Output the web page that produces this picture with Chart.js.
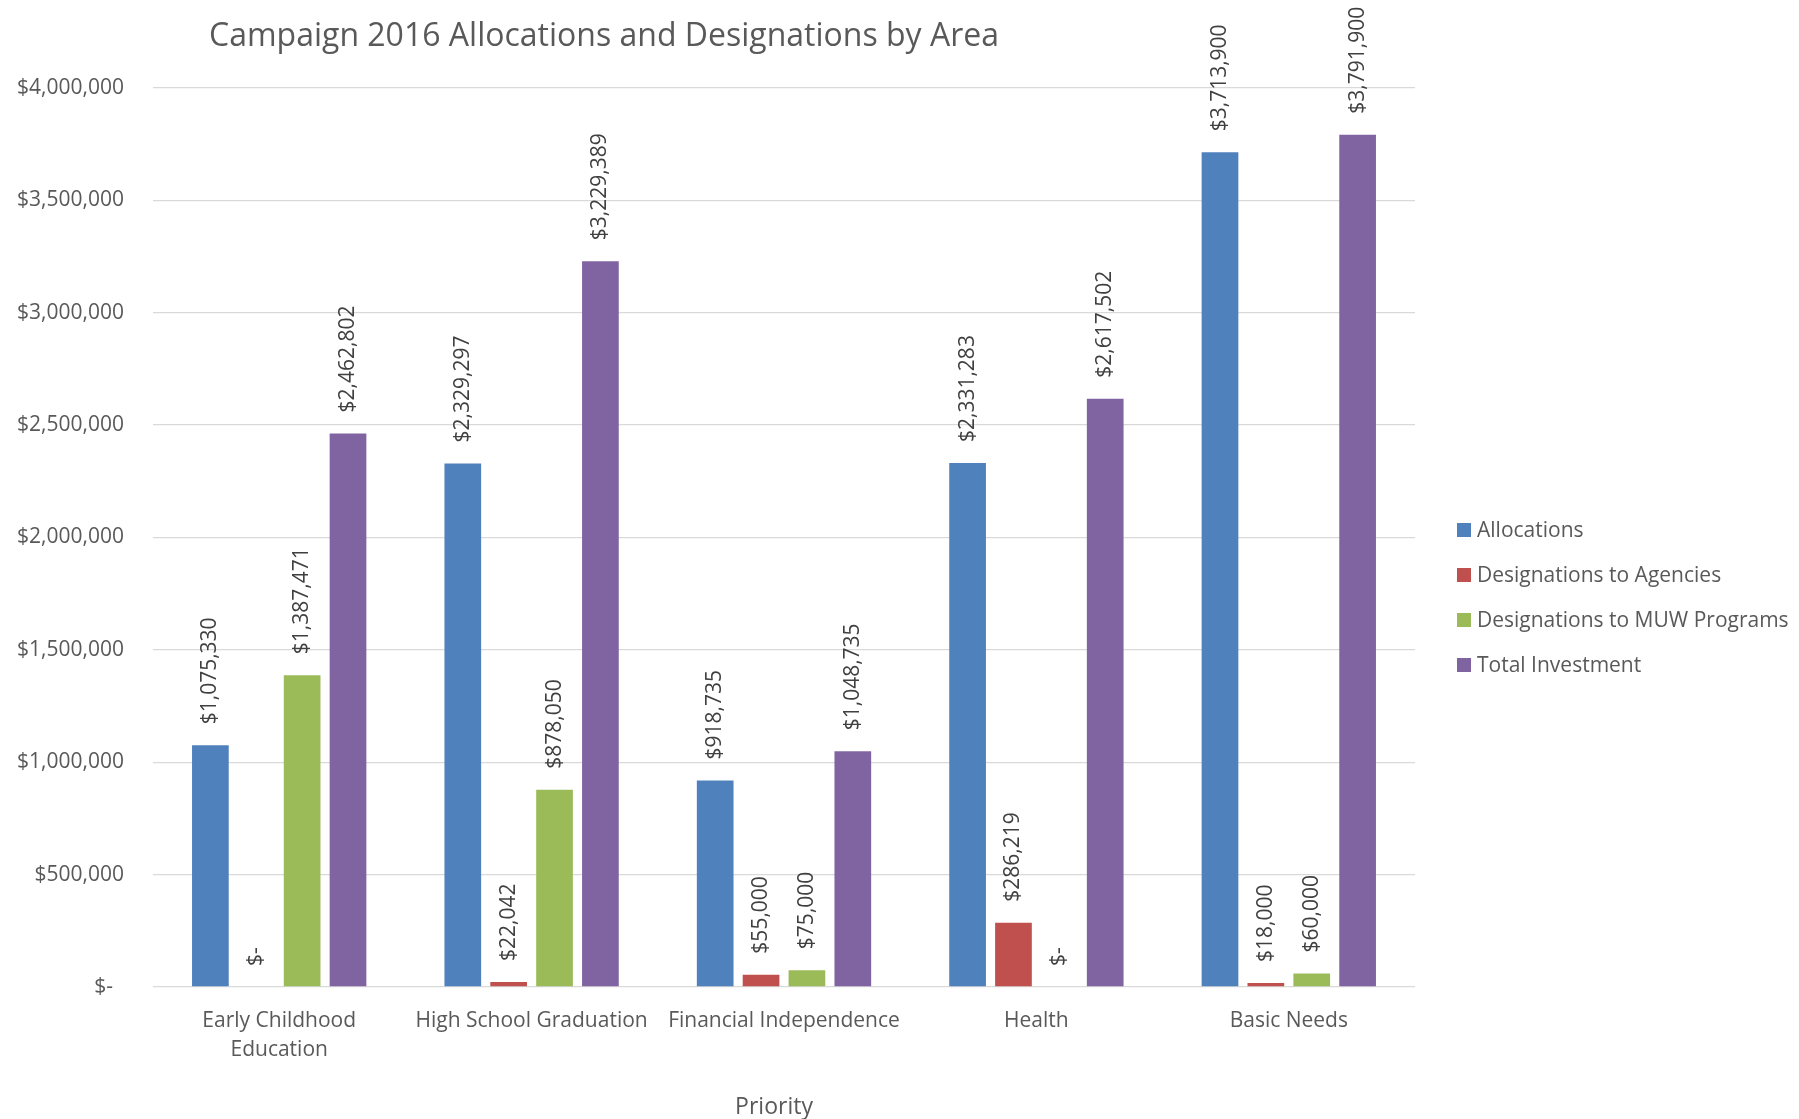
<!DOCTYPE html>
<html>
<head>
<meta charset="utf-8">
<title>Campaign 2016 Allocations and Designations by Area</title>
<script src="https://cdn.jsdelivr.net/npm/chart.js@4.4.1/dist/chart.umd.min.js"></script>
<style>
  html, body { margin: 0; padding: 0; background: #fff; }
  #wrap { width: 1799px; height: 1119px; }
</style>
</head>
<body>
<div id="wrap"><canvas id="chart" width="1799" height="1119"></canvas></div>
<script>
// Data
const categories = [['Early Childhood', 'Education'], 'High School Graduation', 'Financial Independence', 'Health', 'Basic Needs'];
const allocations = [1075330, 2329297, 918735, 2331283, 3713900];
const toAgencies = [0, 22042, 55000, 286219, 18000];
const toMuwPrograms = [1387471, 878050, 75000, 0, 60000];
const totalInvestment = [2462802, 3229389, 1048735, 2617502, 3791900];
const seriesNames = ['Allocations', 'Designations to Agencies', 'Designations to MUW Programs', 'Total Investment'];
const yTicks = [0, 500000, 1000000, 1500000, 2000000, 2500000, 3000000, 3500000, 4000000];

const colors = ['#4f81bd', '#c0504d', '#9bbb59', '#8064a2'];
const FONT = "'Open Sans', sans-serif";

// Excel accounting style: zero shows as "$-"
function money(v) {
    if (v === 0) return '$-';
    return '$' + v.toLocaleString('en-US');
}

// title, legend, axis title and the rotated value labels
const decorPlugin = {
    id: 'decor',
    afterDatasetsDraw(chart) {
        const ctx = chart.ctx;
        ctx.save();

        // value labels above every bar
        ctx.font = `21px ${FONT}`;
        ctx.fillStyle = '#404040';
        ctx.textAlign = 'left';
        ctx.textBaseline = 'middle';
        chart.data.datasets.forEach((ds, i) => {
            chart.getDatasetMeta(i).data.forEach((bar, j) => {
                ctx.save();
                ctx.translate(bar.x, bar.y - 21);
                ctx.rotate(-Math.PI / 2);
                ctx.fillText(money(ds.data[j]), 0, 0);
                ctx.restore();
            });
        });

        // title
        ctx.font = `32px ${FONT}`;
        ctx.fillStyle = '#595959';
        ctx.textAlign = 'center';
        ctx.fillText('Campaign 2016 Allocations and Designations by Area', 604, 37);

        // x axis title
        ctx.font = `23px ${FONT}`;
        ctx.fillText('Priority', 774, 1107);

        // legend
        ctx.font = `21px ${FONT}`;
        ctx.textAlign = 'left';
        chart.data.datasets.forEach((ds, i) => {
            const y = 530 + i * 45;
            ctx.fillStyle = ds.backgroundColor;
            ctx.fillRect(1457, y - 7, 14, 14);
            ctx.fillStyle = '#595959';
            ctx.fillText(ds.label, 1477, y + 1);
        });

        ctx.restore();
    }
};

const datasetValues = [allocations, toAgencies, toMuwPrograms, totalInvestment];

new Chart(document.getElementById('chart'), {
    type: 'bar',
    data: {
        labels: categories,
        datasets: datasetValues.map((vals, i) => ({
            label: seriesNames[i],
            data: vals,
            backgroundColor: colors[i],
            categoryPercentage: 0.727,
            barPercentage: 0.8
        }))
    },
    options: {
        responsive: false,
        animation: false,
        layout: {
            padding: { top: 88, right: 384, left: 0, bottom: 0 }
        },
        plugins: {
            legend: { display: false },
            title: { display: false },
            tooltip: { enabled: false }
        },
        scales: {
            x: {
                grid: { display: false },
                border: { display: false },
                ticks: {
                    color: '#595959',
                    font: { family: FONT, size: 21, lineHeight: 1.35 },
                    padding: 12,
                    maxRotation: 0,
                    autoSkip: false
                },
                afterFit: (s) => { s.height = 132; }
            },
            y: {
                min: 0,
                max: 4000000,
                afterBuildTicks: (s) => { s.ticks = yTicks.map(v => ({ value: v })); },
                grid: { color: '#d9d9d9', lineWidth: 1.3, drawTicks: false },
                border: { display: false },
                ticks: {
                    color: '#595959',
                    font: { family: FONT, size: 21 },
                    padding: 29,
                    // accounting format leaves room after the dash
                    callback: (v) => v === 0 ? '$-  ' : money(v)
                },
                afterFit: (s) => { s.width = 153; }
            }
        }
    },
    plugins: [decorPlugin]
});
</script>
</body>
</html>
